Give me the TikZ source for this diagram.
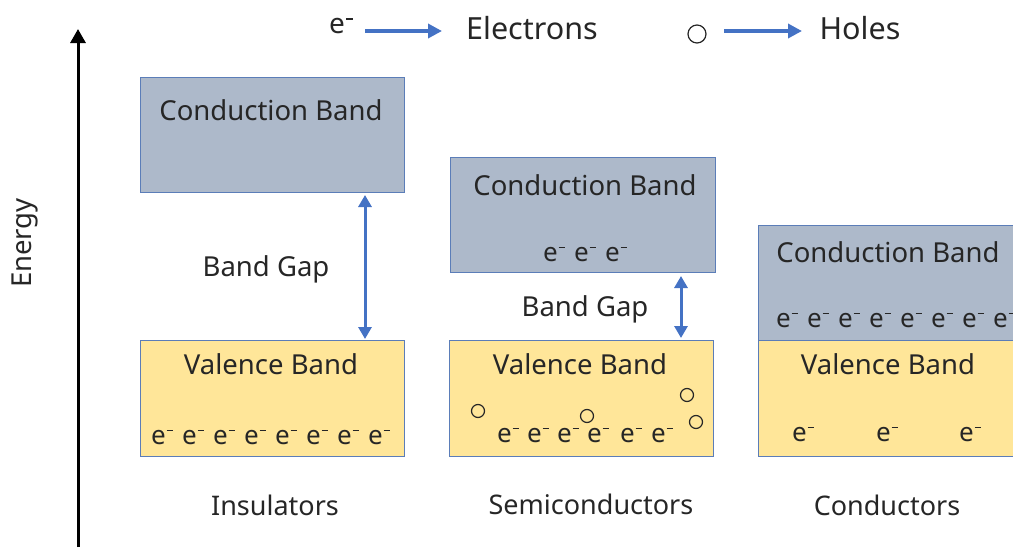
\documentclass[tikz,border=0pt]{standalone}
\usepackage{fontspec}
\setmainfont{Noto Sans}
\usetikzlibrary{arrows.meta}
\definecolor{cbfill}{HTML}{ADB9CA}
\definecolor{vbfill}{HTML}{FFE699}
\definecolor{bandedge}{HTML}{5B7DB8}
\definecolor{arrblue}{HTML}{4472C4}
\definecolor{txt}{HTML}{262626}
\newcommand\el{e\hspace{0.04em}\rule[0.5em]{0.24em}{0.055em}}
\begin{document}
\begin{tikzpicture}[x=1pt,y=-1pt,
  band/.style={draw=bandedge,line width=1pt},
  lbl/.style={text=txt,font=\fontsize{27.5}{30}\selectfont,inner sep=0pt},
  elec/.style={text=txt,font=\fontsize{26}{28}\selectfont,inner sep=0pt},
  hole/.style={circle,draw=txt,line width=1.2pt,minimum size=13pt,inner sep=0pt},
  bluearr/.style={draw=arrblue,line width=3.5pt,-{Triangle[width=14pt,length=14pt]}},
  gaparr/.style={draw=arrblue,line width=3pt,{Triangle[width=13pt,length=12pt]}-{Triangle[width=13pt,length=12pt]}}]
\useasboundingbox (0,0) rectangle (1013,547);
% axis
\coordinate (axb) at (78,547);
\coordinate (axt) at (78,29);
\draw[line width=3pt,-{Triangle[width=15pt,length=14pt]}] (axb) -- (axt);
\node[lbl,rotate=90] (energy) at (25,243) {Energy};
% legend
\node[elec,font=\fontsize{28}{30}\selectfont] (leg1) at (341,26) {\el};
\coordinate (la1) at (365,31);
\coordinate (la2) at (442,31);
\draw[bluearr] (la1) -- (la2);
\node[lbl,font=\fontsize{30.5}{33}\selectfont] (legE) at (532,28) {Electrons};
\node[hole,minimum size=18pt] (leghole) at (697,34) {};
\coordinate (lb1) at (724,31);
\coordinate (lb2) at (802,31);
\draw[bluearr] (lb1) -- (lb2);
\node[lbl,font=\fontsize{30.5}{33}\selectfont] (legH) at (860,28) {Holes};
% insulator
\draw[band,fill=cbfill] (140,77) rectangle (404,192);
\node[lbl] (icb) at (271,110) {Conduction Band};
\draw[band,fill=vbfill] (140,340) rectangle (404,456);
\node[lbl] (ivb) at (271,364) {Valence Band};
\coordinate (ig1) at (365,195);
\coordinate (ig2) at (365,339);
\draw[gaparr] (ig1) -- (ig2);
\node[lbl] (igap) at (266,269) {Band Gap};
\foreach \i in {0,...,7} \node[elec] (ie\i) at (162+31*\i,437) {\el};
\node[lbl,font=\fontsize{27}{30}\selectfont] (ins) at (275,505) {Insulators};
% semiconductor
\draw[band,fill=cbfill] (450,157) rectangle (715,272);
\node[lbl] (scb) at (585,185) {Conduction Band};
\foreach \i in {0,1,2} \node[elec] (sce\i) at (554+31*\i,254) {\el};
\draw[band,fill=vbfill] (449,340) rectangle (713,456);
\node[lbl] (svb) at (580,364) {Valence Band};
\coordinate (sg1) at (681,276);
\coordinate (sg2) at (681,338);
\draw[gaparr] (sg1) -- (sg2);
\node[lbl] (sgap) at (585,309) {Band Gap};
\foreach \i/\x in {0/508,1/538,2/568,3/598,4/631,5/662} \node[elec] (sve\i) at (\x,435) {\el};
\node[hole] (h1) at (478,411) {};
\node[hole] (h2) at (587,416) {};
\node[hole] (h3) at (687,395) {};
\node[hole] (h4) at (696,422) {};
\node[lbl,font=\fontsize{27}{30}\selectfont] (semi) at (591,504.5) {Semiconductors};
% conductor
\draw[band,fill=cbfill] (758,225) rectangle (1020,340);
\node[lbl] (ccb) at (888,252) {Conduction Band};
\foreach \i in {0,...,7} \node[elec] (cce\i) at (787+31*\i,320) {\el};
\draw[band,fill=vbfill] (758,340) rectangle (1020,456);
\node[lbl] (cvb) at (888,364) {Valence Band};
\foreach \i/\x in {0/803,1/887,2/970} \node[elec] (cve\i) at (\x,434) {\el};
\node[lbl,font=\fontsize{27}{30}\selectfont] (cond) at (887,505) {Conductors};
\end{tikzpicture}
\end{document}
